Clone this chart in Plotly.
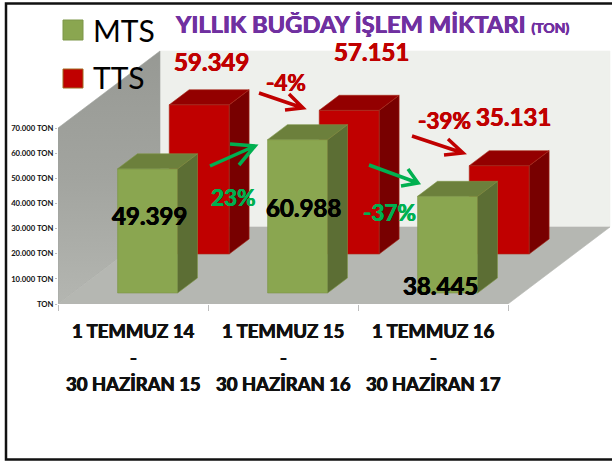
import plotly.graph_objects as go

# --- data ---
categories_top = ["1 TEMMUZ 14", "1 TEMMUZ 15", "1 TEMMUZ 16"]
categories_bottom = ["30 HAZİRAN 15", "30 HAZİRAN 16", "30 HAZİRAN 17"]
mts_values = [49399, 60988, 38445]
tts_values = [59349, 57151, 35131]
y_ticks = [0, 10000, 20000, 30000, 40000, 50000, 60000, 70000]
y_labels = ["TON", "10.000 TON", "20.000 TON", "30.000 TON", "40.000 TON",
            "50.000 TON", "60.000 TON", "70.000 TON"]
mts_changes = ["23%", "-37%"]
tts_changes = ["-4%", "-39%"]

# --- geometry of the oblique projection ---
W, H = 612, 461
X0, Y0 = 58, 304          # pixel position of the axes origin
CAT_PX = 150              # pixels per category
VAL_PX = 176 / 70000      # pixels per ton
DEPTH_X, DEPTH_Y = 102, 77  # pixel shift of the whole chart depth
BAR_W = 0.4
BAR_D = 0.195


def proj(x, v, z):
    return x + z * DEPTH_X / CAT_PX, v + z * DEPTH_Y / VAL_PX


def poly(points):
    xs, ys = [], []
    for p in points + [points[0]]:
        a, b = proj(*p)
        xs.append(a)
        ys.append(b)
    return xs + [None], ys + [None]


def faces(values, z0):
    out = {"front": ([], []), "top": ([], []), "side": ([], [])}
    z1 = z0 + BAR_D
    for i, v in enumerate(values):
        l, r = i + 0.5 - BAR_W / 2, i + 0.5 + BAR_W / 2
        parts = {
            "front": [(l, 0, z0), (r, 0, z0), (r, v, z0), (l, v, z0)],
            "top": [(l, v, z0), (r, v, z0), (r, v, z1), (l, v, z1)],
            "side": [(r, 0, z0), (r, 0, z1), (r, v, z1), (r, v, z0)],
        }
        for k, pts in parts.items():
            a, b = poly(pts)
            out[k][0].extend(a)
            out[k][1].extend(b)
    return out


def add_poly(fig, xy, fill, line=None, name=None, **kw):
    fig.add_trace(go.Scatter(x=xy[0], y=xy[1], mode="lines", fill="toself",
                             fillcolor=fill, name=name,
                             line=dict(color=line or fill, width=0.6),
                             hoverinfo="skip", showlegend=False, **kw))


fig = go.Figure()

# walls and floor
n = len(categories_top)
add_poly(fig, poly([(0, 0, 1), (n, 0, 1), (n, 70000, 1), (0, 70000, 1)]), "#eef0ec")
add_poly(fig, poly([(0, 0, 0), (0, 0, 1), (0, 70000, 1), (0, 70000, 0)]), "#a0a29d",
         fillgradient=dict(type="vertical",
                           colorscale=[[0, "#b4b6b1"], [0.5, "#a2a49f"], [1, "#979994"]]))
add_poly(fig, poly([(0, 0, 0), (n, 0, 0), (n, 0, 1), (0, 0, 1)]), "#b5b7b2")

# bars, back row first
for values, z0, name, front, top, side, edge in [
    (tts_values, 50 / DEPTH_Y, "TTS", "#c00000", "#930000", "#780000", "#a82a1a"),
    (mts_values, 11 / DEPTH_Y, "MTS", "#8aa650", "#6c803c", "#5c6e34", "#7d9648"),
]:
    f = faces(values, z0)
    add_poly(fig, f["front"], front, edge, name)
    add_poly(fig, f["side"], side, edge, name)
    add_poly(fig, f["top"], top, edge, name)


# --- overlay helpers: pixel -> paper ---
def px(x):
    return (x - X0) / (W - X0)


def py(y):
    return (Y0 - y) / Y0


FONT = "Lato, Carlito, Calibri, sans-serif"
RED, GREEN, PURPLE = "#c00000", "#00b050", "#7030a0"


def heavy(color):
    # thickens Lato Bold towards the heavier, softer strokes of the reference
    return f"0.4px 0 0.3px {color}, -0.4px 0 0.3px {color}"


def fmt(v):
    return f"{v:,}".replace(",", ".")


def label(text, x, y, size, color, bold=True, anchor="center"):
    fig.add_annotation(text=f"<b>{text}</b>" if bold else text,
                       xref="paper", yref="paper", x=px(x), y=py(y),
                       xanchor=anchor, yanchor="middle", showarrow=False,
                       font=dict(family=FONT, size=size, color=color,
                                 shadow=heavy(color) if bold else "none"))


mts_pos = [(149, 215), (303, 207), (440, 285)]
tts_pos = [(211, 61), (371, 51), (513, 117)]
for v, (x, y) in zip(mts_values, mts_pos):
    label(fmt(v), x, y, 24, "#000000")
for v, (x, y) in zip(tts_values, tts_pos):
    label(fmt(v), x, y, 24, RED)
for t, (x, y) in zip(mts_changes, [(233, 197), (389, 213)]):
    label(t, x, y, 22.5, GREEN)
for t, (x, y) in zip(tts_changes, [(286, 82), (444, 120)]):
    label(t, x, y, 22.5, RED)

# category labels, one annotation per line for the wide line spacing
for i in range(n):
    for text, y in [(categories_top[i], 331), ("-", 358), (categories_bottom[i], 384)]:
        fig.add_annotation(text=f"<b>{text}</b>", xref="x", yref="paper",
                           x=i + 0.5, y=py(y), yanchor="middle", showarrow=False,
                           font=dict(family=FONT, size=18.5, color="#111111",
                                     shadow=heavy("#111111")))

# legend
shapes = []
for y0, y1, col, edge, t, ty in [(20, 40, "#8aa650", "#7d9648", "MTS", 30),
                                 (69, 88, "#c00000", "#a06a20", "TTS", 77)]:
    shapes.append(dict(type="rect", xref="paper", yref="paper", x0=px(63), x1=px(83),
                       y0=py(y0), y1=py(y1), fillcolor=col, line=dict(color=edge, width=1)))
    label(t, 91, ty, 30, "#000000", bold=False, anchor="left")


# arrows (tail, tip, barb, barb)
def arrow(tail, tip, b1, b2, color):
    p = lambda q: f"{px(q[0])} {py(q[1])}"
    path = f"M {p(tail)} L {p(tip)} M {p(b1)} L {p(tip)} L {p(b2)}"
    shapes.append(dict(type="path", xref="paper", yref="paper", path=path,
                       line=dict(color=color, width=3.5)))


arrow((259, 93), (303, 108), (289, 94), (285, 110), RED)
arrow((412, 136), (463, 153), (448, 139), (444, 155), RED)
arrow((210, 166), (255, 146), (230, 144), (239, 165), GREEN)
arrow((369, 165), (418, 183), (408, 169), (401, 186), GREEN)

# outer frame
q = lambda x, y: f"{px(x)} {py(y)}"
shapes.append(dict(type="path", xref="paper", yref="paper",
                   path=f"M {q(612, 3.5)} L {q(6, 3.5)} L {q(6, 459.5)} L {q(612, 459.5)}",
                   line=dict(color="#111111", width=2.5)))

fig.update_layout(
    width=W, height=H,
    margin=dict(l=X0, r=0, t=0, b=H - Y0, autoexpand=False),
    paper_bgcolor="white", plot_bgcolor="white",
    showlegend=False, shapes=shapes,
    title=dict(text="<b>YILLIK BUĞDAY İŞLEM MİKTARI <span style='font-size:14px'>(TON)</span></b>",
               x=176 / W, xanchor="left", xref="container",
               y=1 - 25 / H, yanchor="middle", yref="container",
               font=dict(family=FONT, size=23.7, color=PURPLE, shadow=heavy(PURPLE))),
    xaxis=dict(range=[0, (W - X0) / CAT_PX], tickmode="array",
               tickvals=list(range(n + 1)), ticktext=[""] * (n + 1),
               ticks="outside", ticklen=6, tickcolor="#bdbdbd", tickwidth=1,
               showgrid=False, zeroline=False, showline=False),
    yaxis=dict(range=[0, Y0 / VAL_PX], tickmode="array", tickvals=y_ticks,
               ticktext=[f"<b>{t}</b>" for t in y_labels],
               ticks="outside", ticklen=2, tickcolor="#bdbdbd",
               tickfont=dict(family=FONT, size=7.7, color="#111111"),
               showgrid=False, zeroline=False, showline=False),
)
fig.write_html("out.html", config=dict(displayModeBar=False),
               post_script="document.documentElement.style.margin='0';document.body.style.margin='0';document.body.style.overflow='hidden';")
